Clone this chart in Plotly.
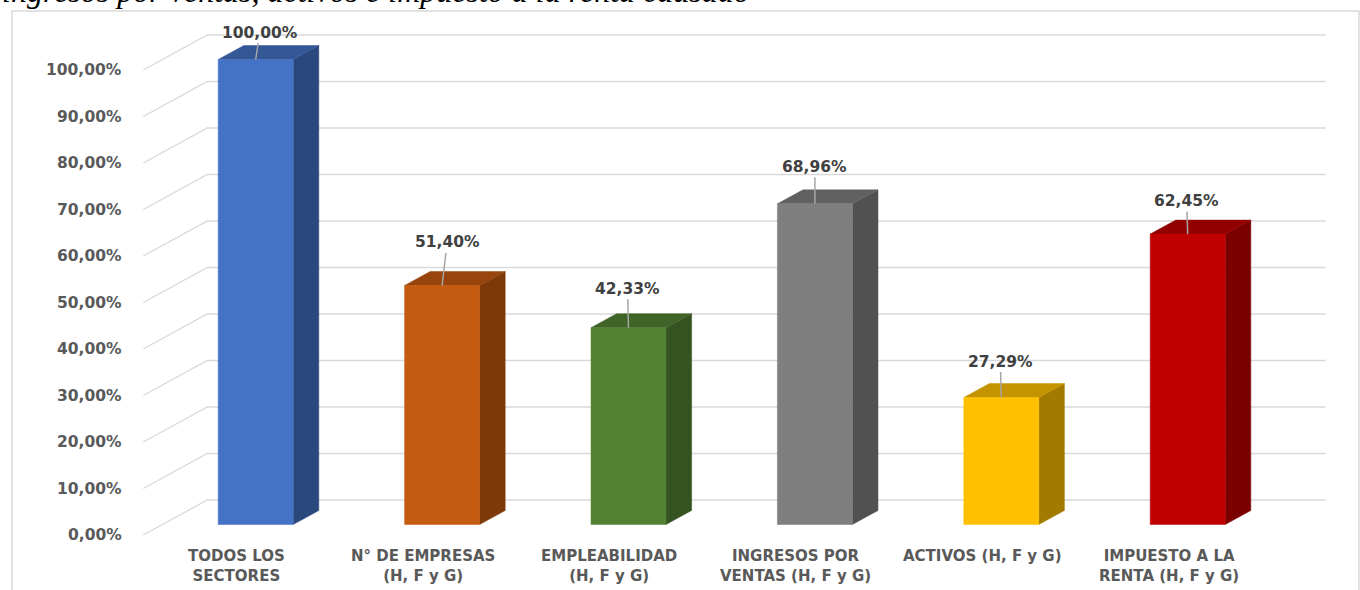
import plotly.graph_objects as go

# ---------------- data ----------------
CATEGORIES = [
    "TODOS LOS<br>SECTORES",
    "N° DE EMPRESAS<br>(H, F y G)",
    "EMPLEABILIDAD<br>(H, F y G)",
    "INGRESOS POR<br>VENTAS (H, F y G)",
    "ACTIVOS (H, F y G)",
    "IMPUESTO A LA<br>RENTA (H, F y G)",
]
VALUES = [100.00, 51.40, 42.33, 68.96, 27.29, 62.45]
Y_TICKS = [0, 10, 20, 30, 40, 50, 60, 70, 80, 90, 100]
TITLE = "ingresos por ventas, activos e impuesto a la renta causado"

# ---------------- style ----------------
FRONT = ["#4472C4", "#C55A11", "#548235", "#7F7F7F", "#FFC000", "#C00000"]
LABEL_AY = [-27, -43, -39, -37, -36, -33]
LABEL_AX = [4, 5, -1, 0, -1, -1]


def shade(hexc, f):
    h = hexc.lstrip("#")
    r, g, b = (int(h[i:i + 2], 16) for i in (0, 2, 4))
    return "rgb(%d,%d,%d)" % (r * f, g * f, b * f)


def pct(v):
    return ("%.2f" % v).replace(".", ",") + "%"


W, H = 1360, 590
PX_PER_CAT = 186.4
X0_PX = 236.5
PX_PER_PCT = 4.65
Y0_PX = 535.0
DEPTH_DX = 64.0 / PX_PER_CAT
DEPTH_DY = 35.0 / PX_PER_PCT
HALF_W = 37.5 / PX_PER_CAT
D_FRONT, D_BACK = 0.3, 0.7
N = len(VALUES)


def proj(x, v, d):
    return x + d * DEPTH_DX, v + d * DEPTH_DY


fig = go.Figure()

# gridlines (side wall + back wall)
shapes = []
for t in Y_TICKS:
    a = proj(-0.5, t, 0)
    b = proj(-0.5, t, 1)
    c = proj(N - 0.5, t, 1)
    shapes.append(dict(type="path", xref="x", yref="y",
                       path="M %f,%f L %f,%f L %f,%f" % (a[0], a[1], b[0], b[1], c[0], c[1]),
                       line=dict(color="#d9d9d9", width=1.3), layer="below"))

# border
shapes.append(dict(type="rect", xref="paper", yref="paper",
                   x0=12 / W, x1=1359 / W, y0=-0.01, y1=1 - 11 / H,
                   line=dict(color="#d9d9d9", width=1.5)))


def poly(pts, color):
    xs = [p[0] for p in pts] + [pts[0][0]]
    ys = [p[1] for p in pts] + [pts[0][1]]
    fig.add_trace(go.Scatter(x=xs, y=ys, mode="lines", fill="toself",
                             fillcolor=color, line=dict(width=0.5, color=color),
                             hoverinfo="skip", showlegend=False))


for i, v in enumerate(VALUES):
    l, r = i - HALF_W, i + HALF_W
    front = [proj(l, 0, D_FRONT), proj(r, 0, D_FRONT), proj(r, v, D_FRONT), proj(l, v, D_FRONT)]
    side = [proj(r, 0, D_FRONT), proj(r, 0, D_BACK), proj(r, v, D_BACK), proj(r, v, D_FRONT)]
    top = [proj(l, v, D_FRONT), proj(r, v, D_FRONT), proj(r, v, D_BACK), proj(l, v, D_BACK)]
    poly(side, shade(FRONT[i], 0.64))
    poly(top, shade(FRONT[i], 0.77))
    poly(front, FRONT[i])

annotations = []
# y tick labels
for t in Y_TICKS:
    x, y = proj(-0.5, t, 0)
    annotations.append(dict(x=x, y=y, xref="x", yref="y", text=pct(t), showarrow=False,
                            xanchor="right", yanchor="middle", xshift=-19,
                            font=dict(family="DejaVu Sans", size=15.5, color="#595959", weight="bold")))
# category labels
for i, c in enumerate(CATEGORIES):
    annotations.append(dict(x=i, y=0, xref="x", yref="y", text=c, showarrow=False,
                            xanchor="center", yanchor="top", yshift=-10,
                            font=dict(family="DejaVu Sans", size=15, color="#595959", weight="bold")))
# value labels
for i, v in enumerate(VALUES):
    x, y = proj(i, v, D_FRONT)
    annotations.append(dict(x=x, y=y, xref="x", yref="y", text=pct(v), showarrow=True,
                            arrowhead=0, arrowwidth=1.5, arrowcolor="#a6a6a6", standoff=0,
                            ax=LABEL_AX[i], ay=LABEL_AY[i],
                            font=dict(family="DejaVu Sans", size=15.5, color="#404040", weight="bold")))
# cut-off title
annotations.append(dict(x=0, y=1, xref="paper", yref="paper", text=TITLE, showarrow=False,
                        xanchor="left", yanchor="bottom", yshift=-11.5,
                        font=dict(family="Liberation Serif", size=32, color="#000000", style="italic")))

fig.update_layout(
    width=W, height=H,
    margin=dict(l=0, r=0, t=0, b=0, pad=0),
    paper_bgcolor="white", plot_bgcolor="white",
    xaxis=dict(range=[-X0_PX / PX_PER_CAT, (W - X0_PX) / PX_PER_CAT], visible=False, fixedrange=True),
    yaxis=dict(range=[(Y0_PX - H) / PX_PER_PCT, Y0_PX / PX_PER_PCT], visible=False, fixedrange=True),
    shapes=shapes, annotations=annotations, showlegend=False,
)

fig.write_html("out.html", config={"displayModeBar": False},
               post_script="document.body.style.margin='0';document.body.style.overflow='hidden';")
